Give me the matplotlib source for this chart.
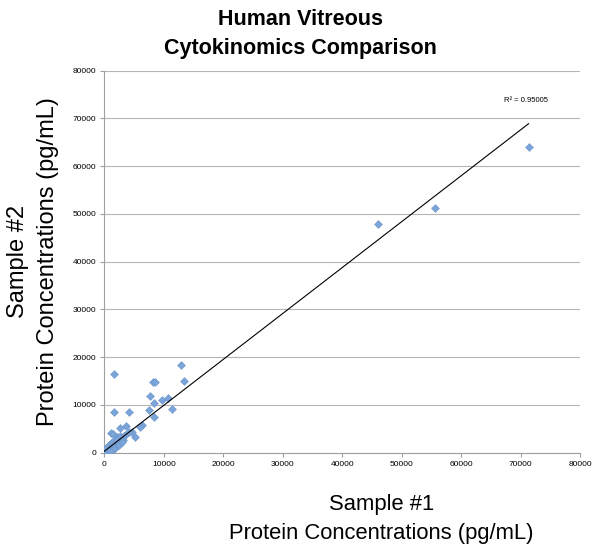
import matplotlib
matplotlib.use("Agg")
import matplotlib.pyplot as plt
import numpy as np

# sample #1 vs sample #2 protein concentrations (pg/mL)
sample1 = [71300, 55600, 45950,
           1580, 8190, 8570, 13390, 12940, 7730, 8350, 9750, 10710, 11300,
           7460, 8350, 1630, 4200, 6390, 5950, 5210, 3700, 2690, 1180, 1400, 2130,
           2900, 3300, 3100, 2500, 2000, 1700, 1500, 1200, 1000, 900, 800, 700,
           600, 500, 450, 400, 350, 300, 250, 200, 150, 120, 100, 80, 60, 50,
           40, 30, 20, 10, 5, 2200, 1900, 2700, 3500, 1300, 1100, 600, 350,
           1800, 2400, 3000, 1600, 1000, 4600, 4100]
sample2 = [64100, 51300, 47800,
           16420, 14870, 14740, 15080, 18300, 11940, 10470, 11040, 11520, 9090,
           8940, 7480, 8590, 8460, 5800, 5320, 3350, 5650, 5110, 4060, 3900, 3220,
           3000, 3400, 2700, 2400, 1800, 2200, 1300, 1500, 900, 1600, 1200, 600,
           1100, 400, 1000, 300, 700, 200, 500, 150, 300, 80, 200, 50, 100, 30,
           60, 20, 40, 10, 5, 2800, 2600, 3500, 3800, 2300, 1900, 1400, 900,
           1000, 1700, 2300, 700, 400, 4400, 4300]

# linear trendline as shown on the chart
slope = 0.962
intercept = 300
r2_label = "R² = 0.95005"

xticks = np.arange(0, 80001, 10000)
yticks = np.arange(0, 80001, 10000)

fig = plt.figure(figsize=(6.01, 5.56), dpi=100)
ax = fig.add_axes([0.1735, 0.1858, 0.7921, 0.6871])

ax.scatter(sample1, sample2, marker="D", s=16, color="#7BA4D8",
           edgecolors="#6A95CC", linewidths=0.4, zorder=3)
xs = np.array([min(sample1), max(sample1)])
ax.plot(xs, slope * xs + intercept, color="black", lw=0.8, zorder=4)
ax.text(67200, 73650, r2_label, fontsize=5.5, family="Liberation Sans",
        va="center", ha="left")

ax.set_xlim(0, 80000)
ax.set_ylim(0, 80000)
ax.set_xticks(xticks)
ax.set_yticks(yticks)
ax.set_xticklabels([str(t) for t in xticks], fontsize=6, family="Liberation Sans")
ax.set_yticklabels([str(t) for t in yticks], fontsize=6, family="Liberation Sans")
ax.tick_params(axis="both", length=3, width=0.8, color="#A0A0A0", pad=3)
ax.grid(axis="y", color="#B5B5B5", lw=0.8)
ax.set_axisbelow(True)
for side in ["top", "right"]:
    ax.spines[side].set_visible(False)
for side in ["left", "bottom"]:
    ax.spines[side].set_color("#A0A0A0")
    ax.spines[side].set_linewidth(0.8)

fig.text(0.5, 0.983, "Human Vitreous\nCytokinomics Comparison", ha="center",
         va="top", fontsize=15.5, fontweight="bold", family="Liberation Sans",
         linespacing=1.45)
fig.text(0.635, 0.022, "Sample #1\nProtein Concentrations (pg/mL)", ha="center",
         va="bottom", fontsize=15.8, family="Liberation Sans", linespacing=1.5,
         multialignment="center")
fig.text(0.012, 0.53, "Sample #2\nProtein Concentrations (pg/mL)", ha="left",
         va="center", rotation=90, fontsize=17, family="Liberation Sans",
         linespacing=1.45, multialignment="center")

fig.savefig("out.png", dpi=100)
